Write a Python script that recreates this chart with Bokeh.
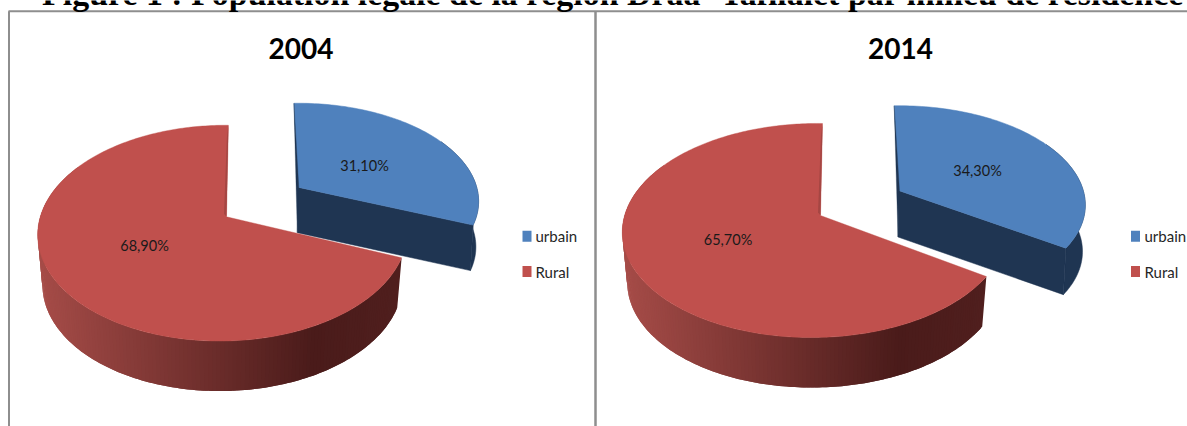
import numpy as np
from bokeh.plotting import figure
from bokeh.models import Range1d
from bokeh.core.properties import value
from bokeh.embed import file_html
from bokeh.resources import INLINE

title_text = "Figure 1 : Population légale de la région Drâa -Tafilalet par milieu de résidence"
categories = ["urbain", "Rural"]
years = ["2004", "2014"]
urbain = [31.10, 34.30]
rural = [68.90, 65.70]

BLUE, BLUE_DK = "#4F81BD", "#1F3552"
RED, RED_IN = "#C0504D", "#A54643"
STOPS = [(0.0, (166, 76, 72)), (0.76, (74, 27, 26)), (1.0, (80, 31, 30))]
CHART_FONT = "Lato"

# projection settings of each 3-D pie: apex, half axes, perspective, wall depth
LAYOUT = [
    dict(red=dict(c=(226, 216.3), a=182.5, b=105.4, k=.1516, m=.02, s=.012, d=50, sx=.975),
         blue=dict(c=(297.3, 186.7), a=173.5, b=94, k=.12, m=-.03, s=-.025, d=45.5, sx=.985),
         title_x=300.5, lab_b=(364, 165), lab_r=(144, 245), leg_box=522, leg_txt=535),
    dict(red=dict(c=(820, 215), a=190, b=104.9, k=.14, m=.03, s=.012, d=50, sx=.975),
         blue=dict(c=(898, 190), a=179, b=94.9, k=.12, m=-.031, s=-.027, d=46.5, sx=.985),
         title_x=900, lab_b=(977, 170), lab_r=(727.5, 238.7), leg_box=1130.5, leg_txt=1144),
]


def rim(g, th, depth=False):
    u, v = np.sin(th), np.cos(th)
    w = 1 + g["k"] * v + g["m"] * u
    a = g["a"] * (g["sx"] if depth else 1)
    x = g["c"][0] + a * (u + g["s"] * v) / w
    y = g["c"][1] - g["b"] * v / w + (g["d"] if depth else 0)
    return x, y


def grad(f):
    f = float(np.clip(f, 0, 1))
    for (f0, c0), (f1, c1) in zip(STOPS, STOPS[1:]):
        if f <= f1:
            t = (f - f0) / (f1 - f0)
            return "#%02x%02x%02x" % tuple(int(round(p + (q - p) * t)) for p, q in zip(c0, c1))
    return "#%02x%02x%02x" % STOPS[-1][1]


p = figure(width=1187, height=426, x_range=Range1d(0, 1187), y_range=Range1d(426, 0),
           output_backend="svg", toolbar_location=None, min_border=0,
           x_axis_location=None, y_axis_location=None, outline_line_color=None,
           background_fill_color="white", border_fill_color="white")
p.grid.visible = False

FRAME = "#8E8E8E"
p.line([8, 1187], [10.7, 10.7], line_color=FRAME, line_width=2)
p.line([8.5, 8.5], [10.7, 426], line_color=FRAME, line_width=2)
p.line([595, 595], [10.7, 426], line_color=FRAME, line_width=2.5)

p.text([612.5], [-7], text=[title_text], text_font=value("Liberation Serif"), text_font_style="bold",
       text_font_size="33.9px", text_align="center", text_baseline="alphabetic", text_color="black")

for L, year, ub, rr in zip(LAYOUT, years, urbain, rural):
    cut = 2 * np.pi * ub / (ub + rr)

    # blue slice: radial wall, curved wall, sliver on the cut edge, top face
    g = L["blue"]
    th = np.linspace(np.radians(60), cut, 50)
    xt, yt = rim(g, th)
    xb, yb = rim(g, th, True)
    p.patch(np.r_[xt, xb[::-1]], np.r_[yt, yb[::-1]], fill_color=BLUE_DK, line_color=BLUE_DK, line_width=.5)
    ax, ay = g["c"]
    ex, ey = rim(g, np.array([cut]))
    bx, by = rim(g, np.array([cut]), True)
    adx, ady = ax - 0.5, ay + g["d"]
    p.patch([ax, ex[0], bx[0], adx], [ay, ey[0], by[0], ady], fill_color=BLUE_DK, line_color=BLUE_DK, line_width=.5)
    th = np.linspace(0, cut, 90)
    xt, yt = rim(g, th)
    p.patch(np.r_[ax, xt], np.r_[ay, yt], fill_color=BLUE, line_color=BLUE, line_width=.5)
    p.patch([xt[0], ax + 1, adx], [yt[0], ay, ady], fill_color=BLUE_DK, line_color=BLUE_DK, line_width=.3)

    # red slice: shaded curved wall painted as overlapping strips, then the top face
    g = L["red"]
    th = np.linspace(cut, np.radians(300), 170)
    xt, yt = rim(g, th)
    xb, yb = rim(g, th, True)
    x0, x1 = xt.min(), xt.max()
    xs, ys, cols = [], [], []
    for i in range(len(th) - 2):
        j = i + 2
        xs.append([xt[i], xt[i + 1], xt[j], xb[j], xb[i + 1], xb[i]])
        ys.append([yt[i], yt[i + 1], yt[j], yb[j], yb[i + 1], yb[i]])
        cols.append(grad((0.5 * (xt[i] + xt[i + 1]) - x0) / (x1 - x0)))
    p.patches(xs, ys, fill_color=cols, line_color=None)
    ax, ay = g["c"]
    th = np.linspace(cut, 2 * np.pi, 240)
    xt, yt = rim(g, th)
    p.patch(np.r_[ax, xt], np.r_[ay, yt], fill_color=RED, line_color=RED, line_width=.4)
    p.patch([xt[-1], ax, ax - 2.5, xt[-1] - 1.5], [yt[-1], ay, ay - 3, yt[-1] + 12],
            fill_color=RED_IN, line_color=None)

    # titles, labels, legend
    p.text([L["title_x"]], [47.5], text=[year], text_font=value(CHART_FONT), text_font_style="bold",
           text_font_size="28px", text_align="center", text_baseline="middle", text_color="black")
    for (lx, ly), val in ((L["lab_b"], ub), (L["lab_r"], rr)):
        p.text([lx], [ly], text=[f"{val:.2f}%".replace(".", ",")], text_font=value(CHART_FONT),
               text_font_size="14.5px", text_align="center", text_baseline="middle", text_color="#1a1a1a")
    for name, col, yy in zip(categories, (BLUE, RED), (235.7, 271)):
        p.rect([L["leg_box"] + 4.5], [yy], width=9, height=11, fill_color=col, line_color=None)
        p.text([L["leg_txt"]], [yy], text=[name], text_font=value(CHART_FONT), text_font_size="15px",
               text_align="left", text_baseline="middle", text_color="#262626")

html = file_html(p, INLINE)
open("out.html", "w").write(html)
